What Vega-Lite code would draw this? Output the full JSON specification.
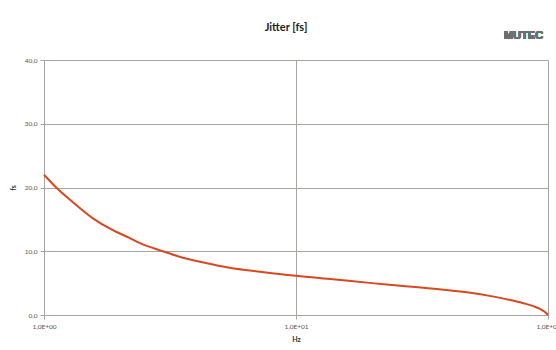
{
  "$schema": "https://vega.github.io/schema/vega-lite/v6.json",
  "width": 504,
  "height": 255,
  "autosize": {"type": "none"},
  "padding": {"left": 44, "top": 60, "right": 8, "bottom": 35},
  "background": "white",
  "title": {"text": "Jitter [fs]", "font": "Lato", "fontSize": 11, "fontWeight": "bold", "color": "#222222", "anchor": "middle", "offset": -3, "dx": -10},
  "config": {"view": {"stroke": null}, "font": "Lato"},
  "data": {"values": [
    {"f": 1, "jitter": 22.0},
    {"f": 1.118, "jitter": 20.0},
    {"f": 1.301, "jitter": 17.7},
    {"f": 1.558, "jitter": 15.2},
    {"f": 1.875, "jitter": 13.3},
    {"f": 2.184, "jitter": 12.1},
    {"f": 2.393, "jitter": 11.3},
    {"f": 2.96, "jitter": 10.0},
    {"f": 3.45, "jitter": 9.15},
    {"f": 4.34, "jitter": 8.2},
    {"f": 5.45, "jitter": 7.42},
    {"f": 7.2, "jitter": 6.8},
    {"f": 10, "jitter": 6.15},
    {"f": 14, "jitter": 5.6},
    {"f": 20, "jitter": 5.0},
    {"f": 26, "jitter": 4.6},
    {"f": 37, "jitter": 4.05},
    {"f": 50, "jitter": 3.45},
    {"f": 58.6, "jitter": 3.0},
    {"f": 70, "jitter": 2.4},
    {"f": 80, "jitter": 1.85},
    {"f": 88, "jitter": 1.35},
    {"f": 93, "jitter": 0.95},
    {"f": 97, "jitter": 0.5},
    {"f": 100, "jitter": 0.0}
  ]},
  "layer": [
    {
      "mark": {"type": "line", "color": "#d9481f", "strokeWidth": 2, "interpolate": "monotone"},
      "encoding": {
        "x": {"field": "f", "type": "quantitative", "title": "Hz",
          "scale": {"type": "log", "domain": [1, 100]},
          "axis": {"values": [1, 10, 100], "labelExpr": "datum.value == 1 ? '1,0E+00' : datum.value == 10 ? '1,0E+01' : '1,0E+02'",
            "grid": true, "gridColor": "#a9a49f", "gridWidth": 1, "domainColor": "#a9a49f", "tickColor": "#a9a49f", "tickSize": 4,
            "labelFontSize": 6.5, "labelColor": "#555555", "labelPadding": 4, "labelFlush": false,
            "titleFontSize": 7, "titleFontWeight": "bold", "titleColor": "#333333", "titlePadding": 6}},
        "y": {"field": "jitter", "type": "quantitative", "title": "fs",
          "scale": {"domain": [0, 40]},
          "axis": {"values": [0, 5, 10, 15, 20, 25, 30, 35, 40], "labelExpr": "replace(format(datum.value, '.1f'), '.', ',')",
            "grid": true, "gridColor": "#a9a49f", "gridWidth": 1, "domainColor": "#a9a49f", "tickColor": "#a9a49f", "tickSize": 4,
            "labelFontSize": 6.5, "labelColor": "#555555", "labelPadding": 3,
            "titleFontSize": 7, "titleFontWeight": "bold", "titleColor": "#333333", "titlePadding": 8}}
      }
    },
    {
      "mark": {"type": "text", "text": "MUTEC", "font": "Liberation Sans", "fontWeight": "bold", "fontSize": 11, "color": "#6e6e6e", "clip": false, "align": "center", "baseline": "middle"},
      "encoding": {
        "x": {"datum": 80, "type": "quantitative"},
        "y": {"datum": 43.7, "type": "quantitative"}
      }
    }
  ]
}
